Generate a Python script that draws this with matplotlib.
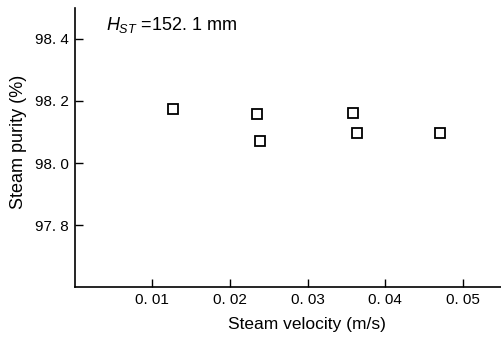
import matplotlib.pyplot as plt

plt.rcParams['font.family'] = ['Liberation Sans', 'DejaVu Sans']
plt.rcParams['mathtext.fontset'] = 'custom'
plt.rcParams['mathtext.it'] = 'Liberation Sans:italic'
plt.rcParams['mathtext.rm'] = 'Liberation Sans'

# steam velocity (m/s) vs steam purity (%)
velocity = [0.0127, 0.0235, 0.0239, 0.0359, 0.0363, 0.0470]
purity = [98.175, 98.157, 98.072, 98.161, 98.096, 98.096]

x_ticks = [0.01, 0.02, 0.03, 0.04, 0.05]
x_labels = ['0. 01', '0. 02', '0. 03', '0. 04', '0. 05']
y_ticks = [97.8, 98.0, 98.2, 98.4]
y_labels = ['97. 8', '98. 0', '98. 2', '98. 4']

fig = plt.figure(figsize=(5.02, 3.43), dpi=100)
ax = fig.add_axes([0.149, 0.163, 0.849, 0.814])

ax.plot(velocity, purity, linestyle='none', marker='s', markersize=7.5,
        markerfacecolor='white', markeredgecolor='black', markeredgewidth=1.3)

ax.set_xlim(0, 0.0549)
ax.set_ylim(97.6, 98.5)
ax.set_xticks(x_ticks)
ax.set_xticklabels(x_labels)
ax.set_yticks(y_ticks)
ax.set_yticklabels(y_labels)
ax.tick_params(direction='in', length=6, width=1, labelsize=11, pad=4)

ax.spines['top'].set_visible(False)
ax.spines['right'].set_visible(False)
ax.spines['left'].set_linewidth(1.2)
ax.spines['bottom'].set_linewidth(1.2)

ax.set_xlabel('Steam velocity (m/s)', fontsize=12.5)
ax.set_ylabel('Steam purity (%)', fontsize=13)
ax.xaxis.set_label_coords(0.545, -0.108)
ax.yaxis.set_label_coords(-0.112, 0.52)

ax.text(0.0040, 98.445, r'$H_{ST}$ =152. 1 mm', fontsize=13, va='center')

fig.savefig('out.png', dpi=100)
